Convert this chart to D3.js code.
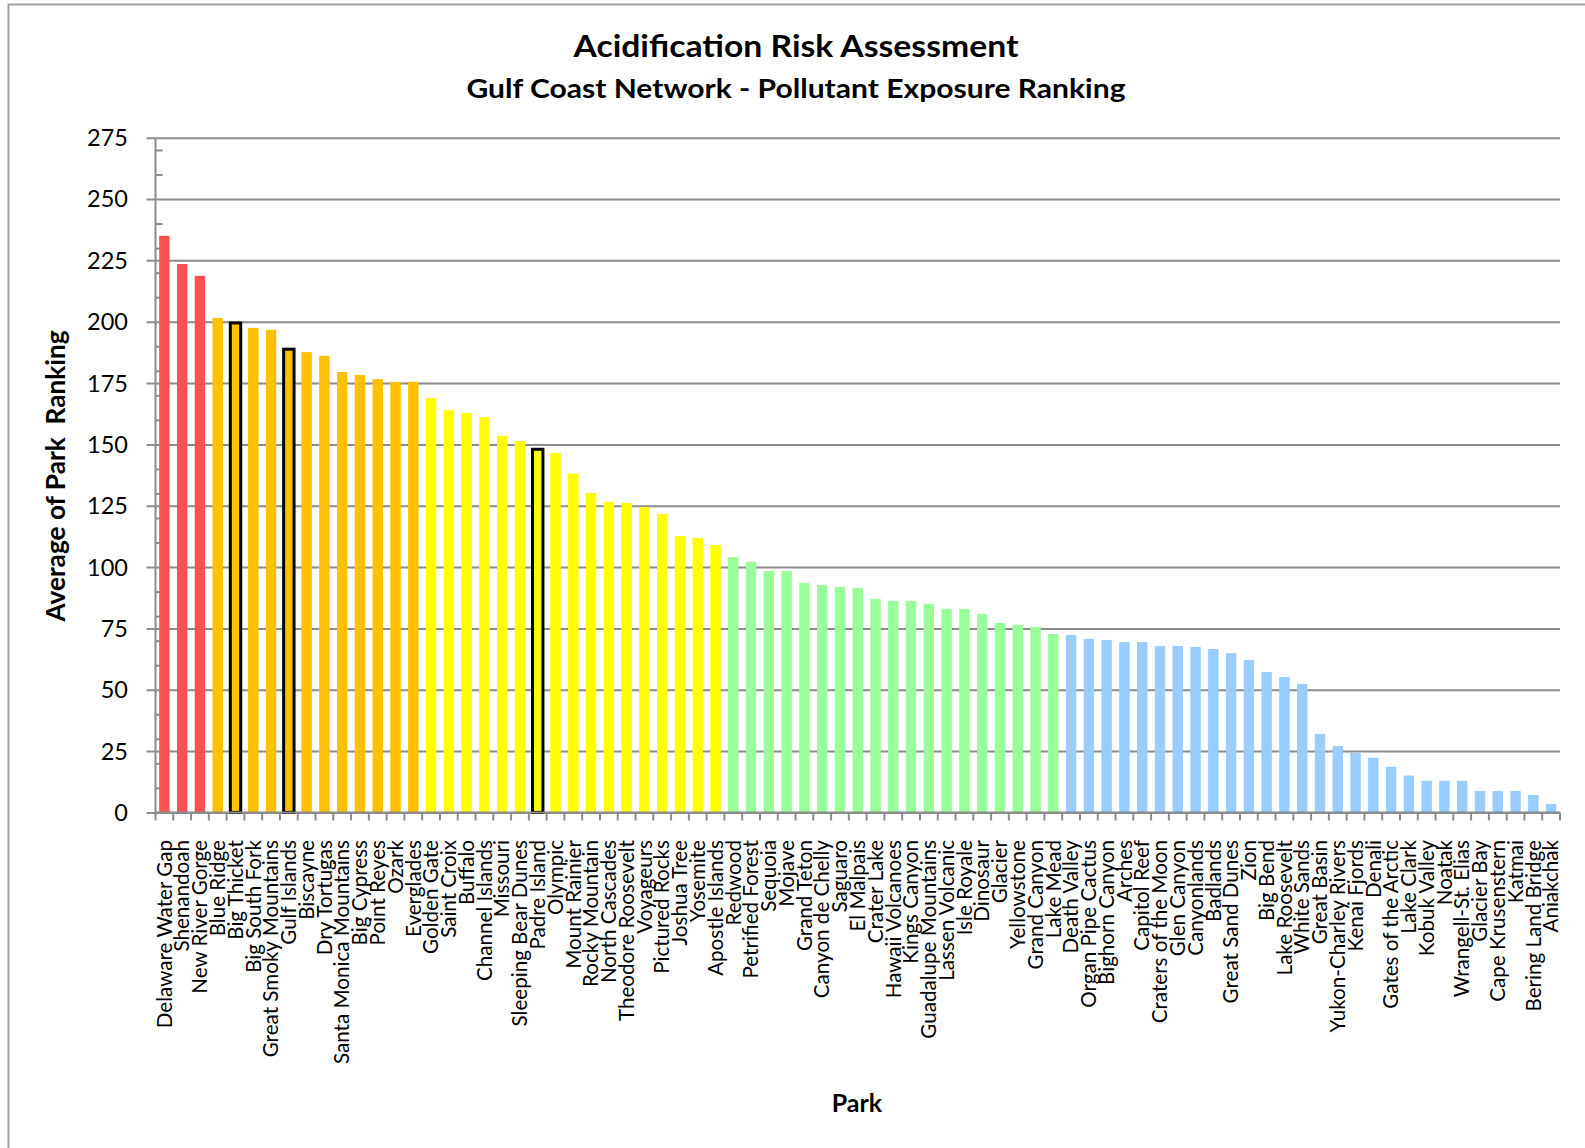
<!DOCTYPE html>
<html>
<head>
<meta charset="utf-8">
<script src="https://cdn.jsdelivr.net/npm/d3@7"></script>
<style>
  body { margin: 0; background: #fff; }
  svg { display: block; font-family: Lato, "Open Sans", sans-serif; }
</style>
</head>
<body>
<svg id="chart" width="1585" height="1148"></svg>
<script>
// Parks ordered by their average exposure ranking (highest first)
const parks = [
  "Delaware Water Gap", "Shenandoah", "New River Gorge", "Blue Ridge", "Big Thicket",
  "Big South Fork", "Great Smoky Mountains", "Gulf Islands", "Biscayne", "Dry Tortugas",
  "Santa Monica Mountains", "Big Cypress", "Point Reyes", "Ozark", "Everglades",
  "Golden Gate", "Saint Croix", "Buffalo", "Channel Islands", "Missouri",
  "Sleeping Bear Dunes", "Padre Island", "Olympic", "Mount Rainier", "Rocky Mountain",
  "North Cascades", "Theodore Roosevelt", "Voyageurs", "Pictured Rocks", "Joshua Tree",
  "Yosemite", "Apostle Islands", "Redwood", "Petrified Forest", "Sequoia",
  "Mojave", "Grand Teton", "Canyon de Chelly", "Saguaro", "El Malpais",
  "Crater Lake", "Hawaii Volcanoes", "Kings Canyon", "Guadalupe Mountains", "Lassen Volcanic",
  "Isle Royale", "Dinosaur", "Glacier", "Yellowstone", "Grand Canyon",
  "Lake Mead", "Death Valley", "Organ Pipe Cactus", "Bighorn Canyon", "Arches",
  "Capitol Reef", "Craters of the Moon", "Glen Canyon", "Canyonlands", "Badlands",
  "Great Sand Dunes", "Zion", "Big Bend", "Lake Roosevelt", "White Sands",
  "Great Basin", "Yukon-Charley Rivers", "Kenai Fjords", "Denali", "Gates of the Arctic",
  "Lake Clark", "Kobuk Valley", "Noatak", "Wrangell-St. Elias", "Glacier Bay",
  "Cape Krusenstern", "Katmai", "Bering Land Bridge", "Aniakchak"
];

// Average of park ranking
const avgRanking = [
  235.0, 223.5, 218.7, 201.5, 199.5,
  197.5, 196.7, 188.8, 187.6, 186.1,
  179.5, 178.3, 176.6, 175.5, 175.5,
  168.9, 163.9, 162.8, 161.1, 153.5,
  151.3, 148.0, 146.5, 138.1, 130.2,
  126.6, 126.1, 124.5, 121.6, 112.6,
  111.8, 109.0, 104.1, 102.1, 98.4,
  98.4, 93.5, 92.7, 91.9, 91.5,
  87.0, 86.2, 86.2, 85.0, 82.9,
  82.9, 80.9, 77.2, 76.4, 75.6,
  72.7, 72.3, 70.7, 70.3, 69.4,
  69.4, 67.8, 67.8, 67.4, 66.6,
  64.9, 62.1, 57.2, 55.2, 52.3,
  32.0, 27.1, 24.3, 22.3, 18.6,
  15.0, 12.9, 12.9, 12.9, 8.7,
  8.7, 8.7, 7.1, 3.4
];

// Risk classes: number of consecutive parks in each class and its colour
const classCounts = [3, 12, 17, 19, 28];
const classColors = ["#FF5050", "#FFC000", "#FFFF00", "#99FF99", "#99CCFF"];

// Gulf Coast Network parks, outlined
const networkParks = ["Big Thicket", "Gulf Islands", "Padre Island"];

const yTicks = [0, 25, 50, 75, 100, 125, 150, 175, 200, 225, 250, 275];
const yMinorTicks = [10, 20, 30, 40, 60, 70, 80, 90, 110, 120, 130, 140, 160, 170, 180, 190, 210, 220, 230, 240, 260, 270];

const titleText = "Acidification Risk Assessment";
const subtitleText = "Gulf Coast Network - Pollutant Exposure Ranking";
const yTitleText = "Average of Park  Ranking";
const xTitleText = "Park";

// ---- layout ----
const plot = { left: 155.5, right: 1560, top: 137.7, bottom: 812.4 };
const gridColor = "#8c8c8c";

const svg = d3.select("#chart");

const x = d3.scaleBand()
  .domain(parks)
  .range([plot.left, plot.right])
  .paddingInner(0.415)
  .paddingOuter(0.2075);

const y = d3.scaleLinear()
  .domain([0, 275])
  .range([plot.bottom, plot.top]);

// colour per park from class counts
const colorOf = [];
classCounts.forEach((c, i) => { for (let k = 0; k < c; k++) colorOf.push(classColors[i]); });

const data = parks.map((p, i) => ({ park: p, value: avgRanking[i], color: colorOf[i] }));

// outer frame of the chart area
svg.append("path")
  .attr("d", "M8.5,1148 V4.5 H1585")
  .attr("fill", "none")
  .attr("stroke", "#a0a0a0")
  .attr("stroke-width", 2);

// horizontal gridlines with outside major ticks
const yAxis = d3.axisLeft(y)
  .tickValues(yTicks)
  .tickSize(-(plot.right - plot.left))
  .tickPadding(0)
  .tickFormat("");

const yG = svg.append("g")
  .attr("transform", `translate(${plot.left},0)`)
  .call(yAxis);
yG.select(".domain").remove();
yG.selectAll(".tick line")
  .attr("x1", -9)
  .attr("stroke", gridColor)
  .attr("stroke-width", 2);

// minor ticks on the inside of the value axis
const yMinor = d3.axisRight(y).tickValues(yMinorTicks).tickSize(7).tickFormat("");
const yMinorG = svg.append("g").attr("transform", `translate(${plot.left},0)`).call(yMinor);
yMinorG.select(".domain").remove();
yMinorG.selectAll(".tick line").attr("stroke", gridColor).attr("stroke-width", 2);

// value axis labels
svg.append("g")
  .selectAll("text")
  .data(yTicks)
  .join("text")
  .attr("x", 128)
  .attr("y", d => y(d))
  .attr("dy", "0.36em")
  .attr("text-anchor", "end")
  .attr("font-size", 23.5)
  .attr("fill", "#000")
  .text(d => d);

// bars
svg.append("g")
  .selectAll("rect")
  .data(data)
  .join("rect")
  .attr("x", d => x(d.park))
  .attr("y", d => y(d.value))
  .attr("width", x.bandwidth())
  .attr("height", d => y(0) - y(d.value))
  .attr("fill", d => d.color)
  .attr("stroke", d => networkParks.includes(d.park) ? "#000" : "none")
  .attr("stroke-width", 3);

// value axis line
svg.append("line")
  .attr("x1", plot.left).attr("x2", plot.left)
  .attr("y1", plot.top).attr("y2", plot.bottom + 1)
  .attr("stroke", gridColor).attr("stroke-width", 2);

// category axis line and ticks between categories
svg.append("line")
  .attr("x1", plot.left).attr("x2", plot.right)
  .attr("y1", plot.bottom).attr("y2", plot.bottom)
  .attr("stroke", gridColor).attr("stroke-width", 2);

const step = x.step();
svg.append("g")
  .selectAll("line")
  .data(d3.range(parks.length + 1))
  .join("line")
  .attr("x1", i => plot.left + i * step)
  .attr("x2", i => plot.left + i * step)
  .attr("y1", plot.bottom)
  .attr("y2", plot.bottom + 8)
  .attr("stroke", gridColor)
  .attr("stroke-width", 2);

// category labels, rotated
svg.append("g")
  .selectAll("text")
  .data(parks)
  .join("text")
  .attr("transform", d => `translate(${x(d) + x.bandwidth() / 2},840) rotate(-90)`)
  .attr("dy", "0.35em")
  .attr("text-anchor", "end")
  .attr("font-size", 20.6)
  .attr("fill", "#000")
  .text(d => d);

// titles
svg.append("text")
  .attr("x", 796).attr("y", 57)
  .attr("text-anchor", "middle")
  .attr("font-size", 30).attr("font-weight", "bold")
  .attr("textLength", 445).attr("lengthAdjust", "spacingAndGlyphs")
  .text(titleText);

svg.append("text")
  .attr("x", 796).attr("y", 98)
  .attr("text-anchor", "middle")
  .attr("font-size", 26).attr("font-weight", "bold")
  .attr("textLength", 659).attr("lengthAdjust", "spacingAndGlyphs")
  .text(subtitleText);

svg.append("text")
  .attr("transform", "translate(65,476) rotate(-90)")
  .attr("text-anchor", "middle")
  .attr("font-size", 26).attr("font-weight", "bold")
  .style("white-space", "pre")
  .attr("textLength", 291).attr("lengthAdjust", "spacingAndGlyphs")
  .text(yTitleText);

svg.append("text")
  .attr("x", 857).attr("y", 1112)
  .attr("text-anchor", "middle")
  .attr("font-size", 25).attr("font-weight", "bold")
  .text(xTitleText);
</script>
</body>
</html>
